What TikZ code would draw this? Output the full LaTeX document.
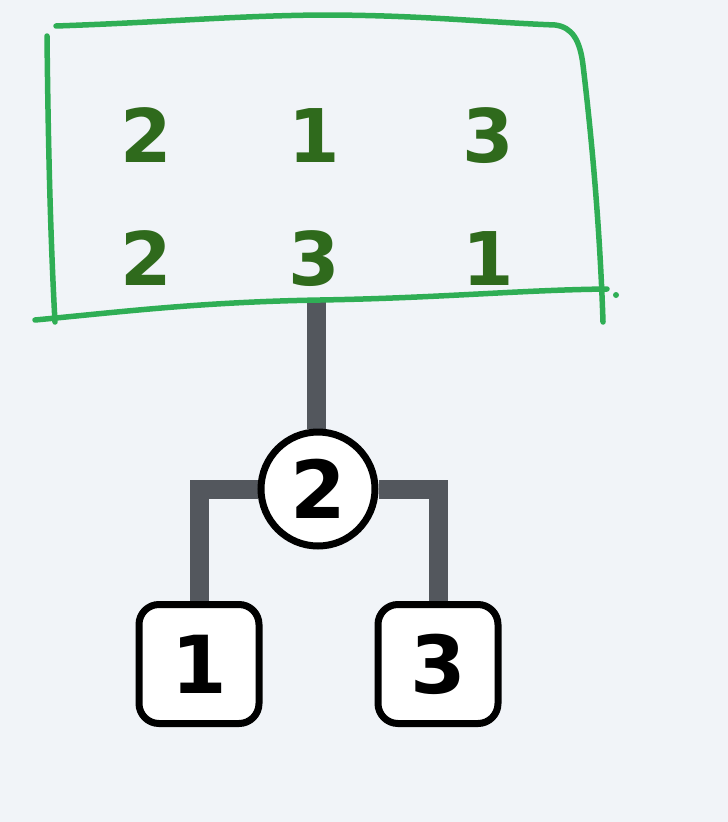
\documentclass[tikz,border=0pt]{standalone}
\usepackage{fontspec}
\setmainfont{DejaVu Sans}
\definecolor{bg}{HTML}{F1F4F8}
\definecolor{pen}{HTML}{2FAE55}
\definecolor{digitgreen}{HTML}{2F6A1C}
\definecolor{link}{HTML}{53575D}
\pgfdeclarelayer{paper}
\pgfdeclarelayer{links}
\pgfsetlayers{paper,links,main}
\begin{document}
\begin{tikzpicture}[x=1pt,y=-1pt,
  penline/.style={draw=pen,line width=5.5pt,line cap=round,line join=round},
  cell/.style={text=digitgreen,font=\fontsize{74}{74}\selectfont\bfseries,anchor=base,inner sep=0pt},
  treelink/.style={draw=link,line width=19pt,line join=miter},
  rootnode/.style={circle,draw=black,line width=7pt,fill=white,minimum size=114pt,inner sep=0pt,
    font=\fontsize{80}{80}\selectfont\bfseries},
  leafnode/.style={rectangle,rounded corners=20pt,draw=black,line width=7pt,fill=white,
    minimum width=120pt,minimum height=119pt,inner sep=0pt,font=\fontsize{80}{80}\selectfont\bfseries}]
  % page
  \begin{pgfonlayer}{paper}
    \fill[bg] (0,0) rectangle (728,822);
  \end{pgfonlayer}
  \useasboundingbox (0,0) rectangle (728,822);

  % hand-drawn frame around the two rows
  \draw[penline] (47,36) .. controls (48,130) and (50,230) .. (55,322);
  \draw[penline] (56,26) .. controls (170,22) and (230,16) .. (320,15)
        .. controls (420,15) and (480,22) .. (555,25)
        .. controls (572,27) and (580,40) .. (583,65)
        .. controls (592,140) and (600,230) .. (603,322);
  \draw[penline] (35,320) .. controls (120,312) and (200,302) .. (320,300)
        .. controls (440,298) and (520,290) .. (607,289);
  \fill[pen] (616,295) circle (3pt);

  % the two rows of numbers
  \node[cell] (r1a) at (146,162) {2};
  \node[cell] (r1b) at (314,162) {1};
  \node[cell] (r1c) at (488,162) {3};
  \node[cell] (r2a) at (146,285) {2};
  \node[cell] (r2b) at (314,285) {3};
  \node[cell] (r2c) at (488,285) {1};

  % tree
  \coordinate (stem) at (316,302);
  \node[rootnode] (root) at (318,489) {2};
  \node[leafnode] (leafA) at (199,664) {1};
  \node[leafnode] (leafB) at (438,664) {3};

  \begin{pgfonlayer}{links}
    \draw[treelink] (stem) -- (stem |- root.north);
    \draw[treelink] (root.west) -| (leafA.north);
    \draw[treelink] (root.east) -| (leafB.north);
  \end{pgfonlayer}
\end{tikzpicture}
\end{document}
